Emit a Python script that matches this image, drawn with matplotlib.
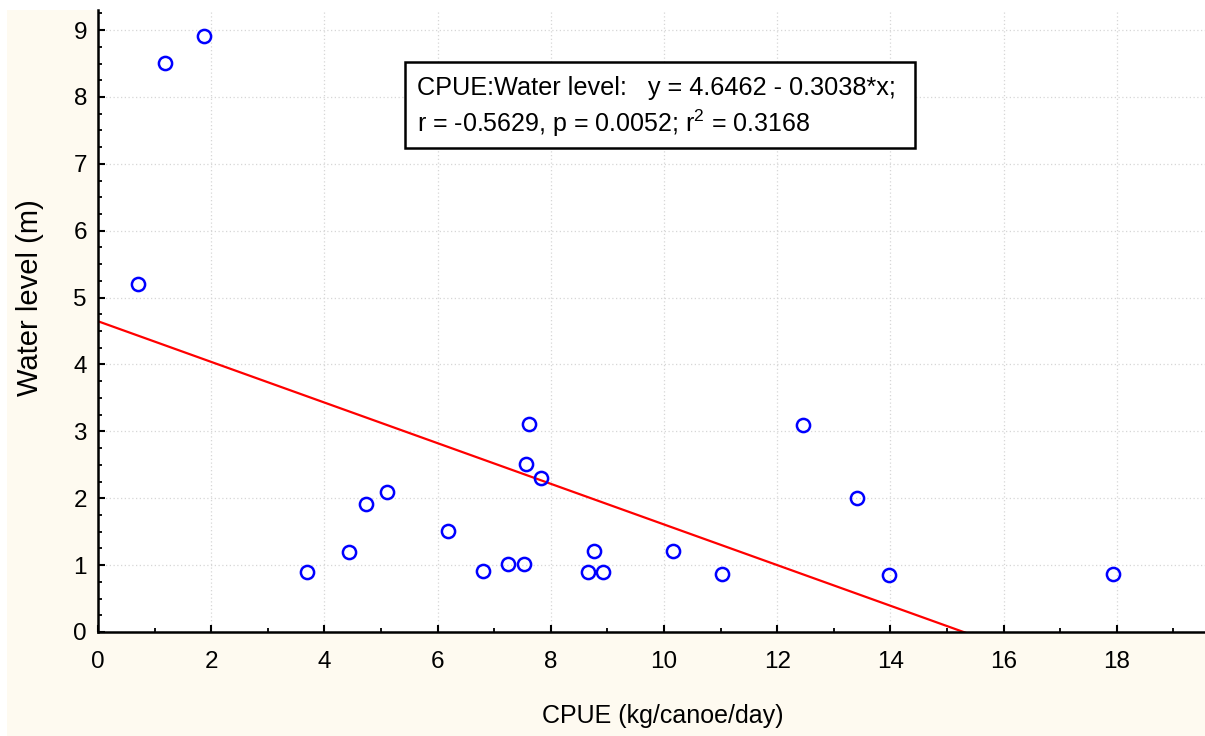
import numpy as np
import matplotlib
matplotlib.use("Agg")
import matplotlib.pyplot as plt
from matplotlib.patches import Rectangle
from matplotlib.ticker import MultipleLocator

plt.rcParams["font.family"] = ["Liberation Sans", "DejaVu Sans"]
plt.rcParams["mathtext.fontset"] = "custom"
plt.rcParams["mathtext.rm"] = "Liberation Sans"

# CPUE (kg/canoe/day) vs water level (m)
cpue = [0.71, 1.18, 1.87, 3.70, 4.44, 4.74, 5.10, 6.18, 6.80, 7.24, 7.52, 7.56,
        7.61, 7.82, 8.66, 8.76, 8.92, 10.16, 11.02, 12.45, 13.41, 13.98, 17.93]
water = [5.21, 8.51, 8.91, 0.89, 1.20, 1.91, 2.10, 1.51, 0.91, 1.01, 1.01, 2.51,
         3.11, 2.30, 0.90, 1.21, 0.90, 1.21, 0.87, 3.10, 2.00, 0.85, 0.86]

# regression from the chart annotation
intercept = 4.6462
slope = -0.3038

xticks = [0, 2, 4, 6, 8, 10, 12, 14, 16, 18]
yticks = [0, 1, 2, 3, 4, 5, 6, 7, 8, 9]

fig = plt.figure(figsize=(12.05, 7.36), dpi=100, facecolor="white")
# cream panel behind the graph
fig.patches.append(Rectangle((7 / 1205, 0), 1, 726 / 736, transform=fig.transFigure,
                             facecolor="#fefaf0", edgecolor="none", zorder=-10))

ax = fig.add_axes([98 / 1205, 104 / 736, 1107 / 1205, 622 / 736])
ax.set_zorder(1)
ax.set_facecolor("white")

ax.set_xlim(0, 19.56)
ax.set_ylim(0, 9.3)

ax.grid(True, which="major", linestyle=(0, (1, 2)), color="#d6d6d6", linewidth=0.9)
ax.set_axisbelow(True)

ax.plot(cpue, water, linestyle="none", marker="o", markersize=9.5,
        markerfacecolor="none", markeredgecolor="#0000ff", markeredgewidth=1.8,
        zorder=3)

xl = np.array([0, 19.56])
ax.plot(xl, intercept + slope * xl, color="#ff0000", linewidth=1.6, zorder=2)

for s in ["top", "right"]:
    ax.spines[s].set_visible(False)
for s in ["left", "bottom"]:
    ax.spines[s].set_linewidth(1.8)
    ax.spines[s].set_color("black")

ax.set_xticks(xticks)
ax.set_yticks(yticks)
ax.xaxis.set_minor_locator(MultipleLocator(1))
ax.yaxis.set_minor_locator(MultipleLocator(0.25))
ax.tick_params(which="major", direction="in", length=5, width=1.5, labelsize=17.5)
ax.tick_params(which="minor", direction="in", length=3, width=1.3)
ax.tick_params(axis="x", which="major", pad=14)
ax.tick_params(axis="y", which="major", pad=8)

ax.set_xlabel("CPUE (kg/canoe/day)", fontsize=18)
ax.xaxis.set_label_coords((663 - 98) / 1107, -(716 - 632) / 622)
ax.xaxis.label.set_va("center")
ax.set_ylabel("Water level (m)", fontsize=21)
ax.yaxis.set_label_coords((30 - 98) / 1107, (632 - 298) / 622)
ax.yaxis.label.set_va("center")

# annotation box with the fit statistics
fig.patches.append(Rectangle((405 / 1205, 1 - 148 / 736), 510 / 1205, 86 / 736,
                             transform=fig.transFigure, facecolor="white",
                             edgecolor="black", linewidth=1.8, zorder=5))
fig.text(417 / 1205, 1 - 88 / 736, "CPUE:Water level:   y = 4.6462 - 0.3038*x;",
         fontsize=18.2, va="center", ha="left", zorder=6)
fig.text(417 / 1205, 1 - 123 / 736,
         r"r = -0.5629, p = 0.0052; r$^{\mathregular{2}}$ = 0.3168",
         fontsize=18, va="center", ha="left", zorder=6)

fig.savefig("out.png", dpi=100, facecolor=fig.get_facecolor())
